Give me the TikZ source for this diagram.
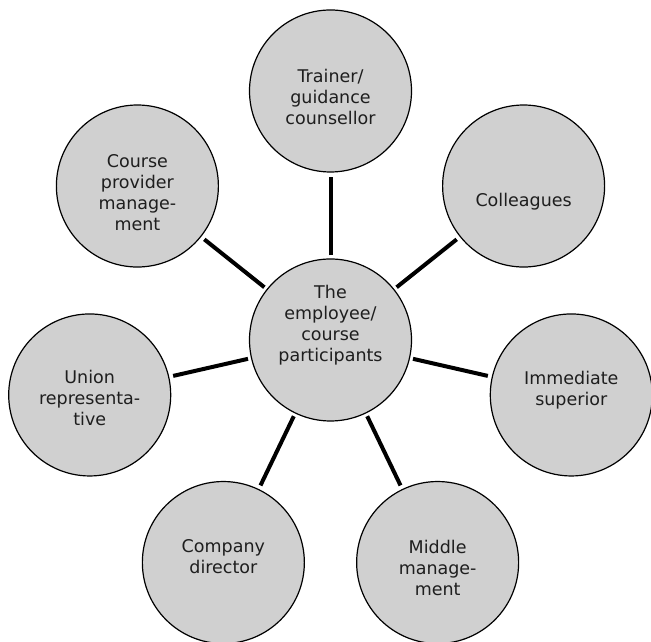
\documentclass[tikz,border=0pt]{standalone}
\usepackage{fontspec}
\setmainfont{DejaVu Sans}
\definecolor{bubblegray}{HTML}{D0D0D0}
\definecolor{textgray}{HTML}{1E1E1E}
\begin{document}
\begin{tikzpicture}[
  x=1pt, y=1pt,
  bubble/.style={circle, draw, line width=1.2pt, fill=bubblegray, minimum size=162pt,
    inner sep=0pt, align=center, text=textgray, font=\fontsize{17.5}{21}\selectfont},
  lift/.style={text height=#1, text depth=0pt},
  link/.style={line width=4pt, shorten <=3pt, shorten >=4pt}
]
\useasboundingbox (0,0) rectangle (651,642);
\begin{scope}[shift={(330.5,302)}]
\node[bubble, lift=44pt] (empl) at (0,0) {The\\employee/\\course\\participants};
\node[bubble, lift=67pt] (trainer) at (90:249) {Trainer/\\guidance\\counsellor};
\node[bubble, lift=40pt] (colleag) at (38.57:247) {Colleagues};
\node[bubble, lift=22pt] (superior) at (-12.86:247) {Immediate\\superior};
\node[bubble, lift=65pt] (middle) at (-64.29:247) {Middle\\manage-\\ment};
\node[bubble, lift=22pt] (director) at (-115.71:247) {Company\\director};
\node[bubble, lift=62pt] (union) at (-167.14:247) {Union\\representa-\\tive};
\node[bubble, lift=89pt] (provider) at (141.43:247) {Course\\provider\\manage-\\ment};
\end{scope}

% spokes
\draw[link] (empl) -- (trainer);
\draw[link] (empl) -- (colleag);
\draw[link] (empl) -- (superior);
\draw[link] (empl) -- (middle);
\draw[link] (empl) -- (director);
\draw[link] (empl) -- (union);
\draw[link] (empl) -- (provider);
\end{tikzpicture}
\end{document}
